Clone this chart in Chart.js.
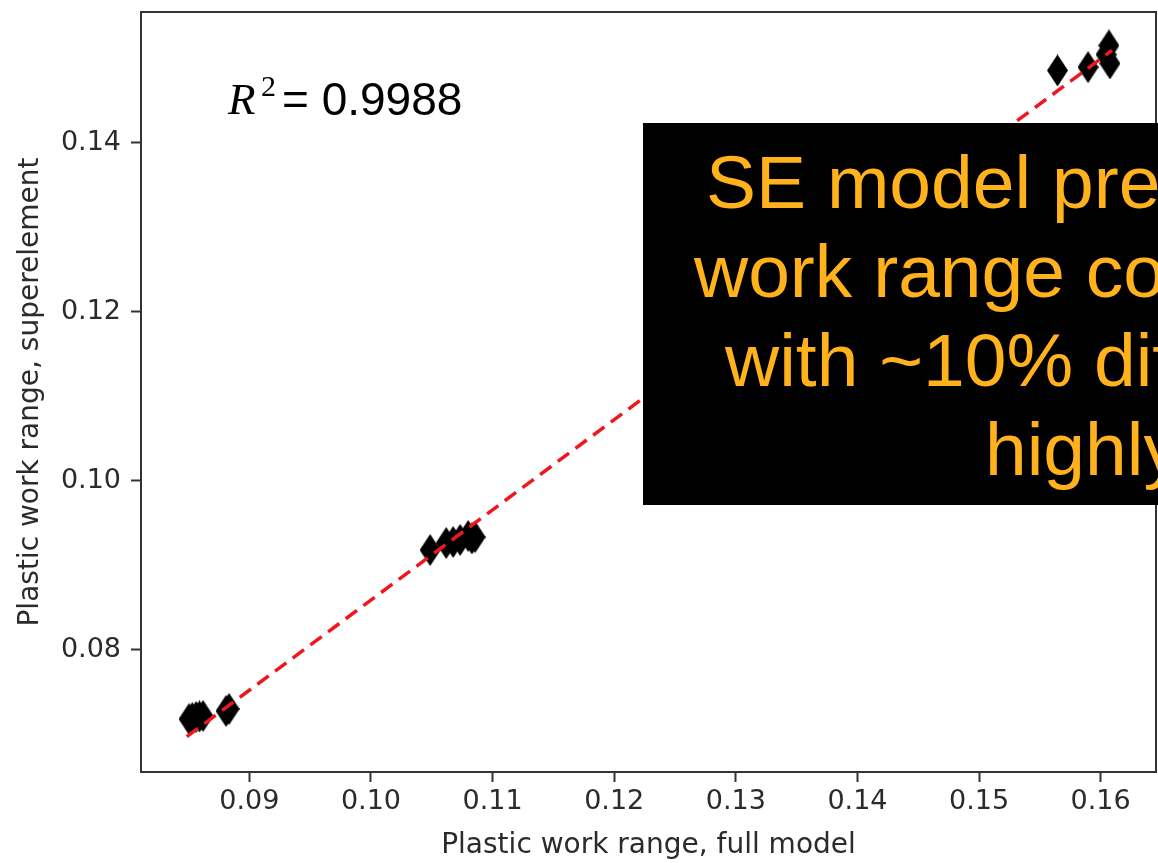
<!DOCTYPE html>
<html>
<head>
<meta charset="utf-8">
<title>Plastic work range</title>
<script src="https://cdn.jsdelivr.net/npm/chart.js@4/dist/chart.umd.min.js"></script>
<style>
    html, body { margin: 0; padding: 0; background: #fff; overflow: hidden; }
    #wrap { position: relative; width: 1158px; height: 863px; overflow: hidden; }
    #plot { position: absolute; left: 0; top: 0; }
    .note { position: absolute; white-space: pre; color: #000; }
    #box {
        position: absolute; left: 643px; top: 123px; width: 515px; height: 382px;
        background: #000; overflow: hidden;
    }
    #box div {
        position: absolute; white-space: pre; color: #ffb21c;
        font-family: "Liberation Sans", Arial, sans-serif; font-size: 75px; line-height: 90px;
    }
</style>
</head>
<body>
<div id="wrap">
    <canvas id="plot" width="1168" height="863"></canvas>

    <span class="note" style="left:228px; top:77px; font:italic 45px/45px 'Liberation Serif', serif;">R</span>
    <span class="note" style="left:261px; top:71px; font:30px/30px 'Liberation Serif', serif;">2</span>
    <span class="note" style="left:282px; top:77px; font:46px/45px 'Liberation Sans', Arial, sans-serif;">= 0.9988</span>

    <div id="box">
        <div style="left:63px; top:14px;">SE model pre</div>
        <div style="left:51px; top:103px;">work range co</div>
        <div style="left:82px; top:192px;">with ~10% dif</div>
        <div style="left:342px; top:281px;">highly</div>
    </div>
</div>

<script>
(function() {
    'use strict';

    // Plastic work range: full model (x) vs superelement model (y)
    var fullModel = [
        0.08504, 0.08530, 0.08562, 0.08590, 0.08619, 0.08808, 0.08833,
        0.10486, 0.10618, 0.10675, 0.10733, 0.10799, 0.10856, 0.10830,
        0.15645, 0.15896, 0.16044, 0.16068, 0.16076
    ];
    var superelement = [
        0.07183, 0.07195, 0.07207, 0.07213, 0.07219, 0.07278, 0.07302,
        0.09183, 0.09266, 0.09278, 0.09302, 0.09349, 0.09337, 0.09320,
        0.14858, 0.14897, 0.15047, 0.15154, 0.14941
    ];

    // Ends of the dashed fit line
    var fitX = [0.08485, 0.16093];
    var fitY = [0.06974, 0.15095];

    var xTicks = [0.09, 0.10, 0.11, 0.12, 0.13, 0.14, 0.15, 0.16];
    var yTicks = [0.08, 0.10, 0.12, 0.14];

    var axisColor = '#333333';
    var textColor = '#2b2b2b';

    // Thin black diamond, like matplotlib's 'd' marker
    function thinDiamond(w, h, color) {
        var c = document.createElement('canvas');
        c.width = w;
        c.height = h;
        var g = c.getContext('2d');
        g.fillStyle = color;
        g.beginPath();
        g.moveTo(w / 2, 0);
        g.lineTo(w, h / 2);
        g.lineTo(w / 2, h);
        g.lineTo(0, h / 2);
        g.closePath();
        g.fill();
        return c;
    }

    // Box round the plot area (all four spines)
    var framePlugin = {
        id: 'frame',
        afterDatasetsDraw: function(chart) {
            var a = chart.chartArea;
            var ctx = chart.ctx;
            ctx.save();
            ctx.strokeStyle = axisColor;
            ctx.lineWidth = 2;
            ctx.strokeRect(a.left, a.top, a.right - a.left, a.bottom - a.top);
            ctx.restore();
        }
    };

    // Fixed axis sizes, and no extra room for the end tick labels
    function noLabelPadding(s) {
        s.paddingTop = 0;
        s.paddingBottom = 0;
        s.paddingLeft = 0;
        s.paddingRight = 0;
    }

    var points = fullModel.map(function(x, i) {
        return { x: x, y: superelement[i] };
    });
    var fit = fitX.map(function(x, i) {
        return { x: x, y: fitY[i] };
    });

    new Chart(document.getElementById('plot').getContext('2d'), {
        type: 'scatter',
        data: {
            datasets: [{
                label: 'fit',
                data: fit,
                showLine: true,
                borderColor: 'rgb(240, 22, 30)',
                borderWidth: 3.5,
                borderDash: [14, 8],
                pointRadius: 0,
                fill: false,
                order: 0
            }, {
                label: 'runs',
                data: points,
                pointStyle: thinDiamond(21, 32, '#000'),
                pointRadius: 11,
                order: 1
            }]
        },
        options: {
            responsive: false,
            animation: false,
            layout: { padding: { top: 12, right: 2, left: 0, bottom: 0 } },
            plugins: {
                legend: { display: false },
                tooltip: { enabled: false }
            },
            scales: {
                x: {
                    type: 'linear',
                    min: 0.08109,
                    max: 0.16455,
                    afterBuildTicks: function(s) {
                        s.ticks = xTicks.map(function(v) { return { value: v }; });
                    },
                    afterFit: function(s) {
                        s.height = 91;
                        noLabelPadding(s);
                    },
                    border: { display: false },
                    grid: {
                        drawOnChartArea: false,
                        drawTicks: true,
                        tickLength: 10,
                        tickWidth: 2,
                        tickColor: axisColor
                    },
                    ticks: {
                        padding: 4,
                        color: textColor,
                        font: { family: 'DejaVu Sans', size: 27 },
                        callback: function(v) { return v.toFixed(2); }
                    },
                    title: {
                        display: true,
                        text: 'Plastic work range, full model',
                        color: textColor,
                        font: { family: 'DejaVu Sans', size: 28 },
                        padding: { top: 0, bottom: 0 }
                    }
                },
                y: {
                    type: 'linear',
                    min: 0.06556,
                    max: 0.15550,
                    afterBuildTicks: function(s) {
                        s.ticks = yTicks.map(function(v) { return { value: v }; });
                    },
                    afterFit: function(s) {
                        s.width = 141;
                        noLabelPadding(s);
                    },
                    border: { display: false },
                    grid: {
                        drawOnChartArea: false,
                        drawTicks: true,
                        tickLength: 10,
                        tickWidth: 2,
                        tickColor: axisColor
                    },
                    ticks: {
                        padding: 10,
                        color: textColor,
                        font: { family: 'DejaVu Sans', size: 27 },
                        callback: function(v) { return v.toFixed(2); }
                    },
                    title: {
                        display: true,
                        text: 'Plastic work range, superelement',
                        color: textColor,
                        font: { family: 'DejaVu Sans', size: 28 },
                        padding: { top: 14, bottom: 0 }
                    }
                }
            }
        },
        plugins: [framePlugin]
    });
})();
</script>
</body>
</html>
